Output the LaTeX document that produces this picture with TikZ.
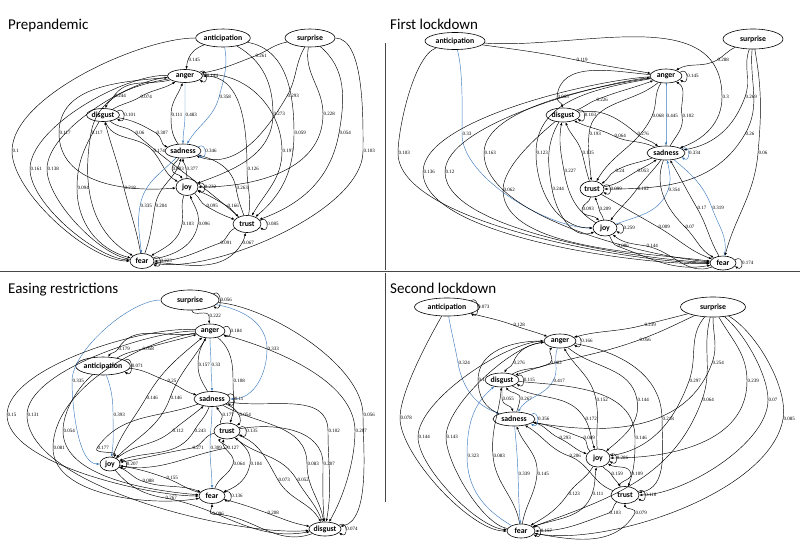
\documentclass[tikz,border=0pt]{standalone}
\usepackage{fontspec}
\setmainfont{Liberation Serif}
\newfontfamily\calfont{Carlito}
\usetikzlibrary{shapes.geometric,arrows.meta}
\definecolor{edgeblue}{RGB}{65,125,190}
\definecolor{divgray}{RGB}{70,70,70}
\tikzset{
 emo/.style={ellipse,draw,line width=0.6pt,inner sep=0pt,font=\calfont\bfseries\fontsize{7.8}{8}\selectfont},
 ed/.style={line width=0.45pt,-{Latex[length=3pt,width=2.4pt]}},
 bl/.style={edgeblue},
 lb/.style={font=\fontsize{5}{5}\selectfont,inner sep=0.3pt,anchor=west,text=black},
 ttl/.style={font=\calfont\fontsize{15}{16}\selectfont,anchor=base west,inner sep=0pt},
 divider/.style={divgray,line width=1pt}
}
\newcommand\EmoEdge[8][]{\pgfmathsetmacro\Erev{#5+180}\draw[ed,#1] (#2) to[out=#3,in=\Erev] (#4) node[lb]{#6} to[out=#5,in=#7] (#8);}
\newcommand\EmoLoop[3][]{\draw[ed,#1] (#2.15) .. controls +(9,-6) and +(9,6) .. (#2.-15) node[lb,pos=0.5]{#3};}
\begin{document}
\begin{tikzpicture}[x=1pt,y=-1pt]
\useasboundingbox (0,0) rectangle (800,544);
% dividers and titles
\draw[divider] (0,271) -- (800,271);
\draw[divider] (385,43) -- (385,270);
\draw[divider] (385,273) -- (385,502);
\node[ttl] (T1) at (8,29) {Prepandemic};
\node[ttl] (T2) at (390,29) {First lockdown};
\node[ttl] (T3) at (8,293) {Easing restrictions};
\node[ttl] (T4) at (390,293) {Second lockdown};
% ---------------- Panel 1
\node[emo,minimum width=48pt,minimum height=18pt] (a1) at (223,38) {anticipation};
\node[emo,minimum width=50pt,minimum height=18pt] (s1) at (310,38) {surprise};
\node[emo,minimum width=35pt,minimum height=13pt] (an1) at (185,76) {anger};
\node[emo,minimum width=33pt,minimum height=13pt] (d1) at (103,115) {disgust};
\node[emo,minimum width=36pt,minimum height=14pt] (sa1) at (183,151) {sadness};
\node[emo,minimum width=22pt,minimum height=17pt] (j1) at (187,187) {joy};
\node[emo,minimum width=28pt,minimum height=17pt] (t1) at (247,224) {trust};
\node[emo,minimum width=24pt,minimum height=15pt] (f1) at (142,261) {fear};
\EmoEdge{a1}{200}{188,60}{250}{0.145}{80}{an1}
\EmoEdge[bl]{a1}{280}{219,97}{255}{0.358}{60}{sa1}
\EmoEdge[looseness=0.65]{a1}{180}{12,151}{270}{0.1}{180}{f1}
\EmoEdge[looseness=0.65]{an1}{178}{30,169}{270}{0.161}{176}{f1}
\EmoEdge[looseness=0.65]{f1}{172}{47,169}{90}{0.138}{185}{an1}
\EmoEdge{an1}{185}{59,133}{270}{0.117}{185}{j1}
\EmoEdge{an1}{195}{114,96}{235}{0.244}{70}{d1}
\EmoEdge{d1}{240}{77,188}{270}{0.094}{165}{f1}
\EmoEdge{f1}{100}{124,188}{104}{0.218}{285}{d1}
\EmoEdge{an1}{190}{91,133}{260}{0.117}{150}{f1}
\EmoEdge{d1}{31}{140,97}{31}{0.074}{211}{an1}
\EmoEdge{sa1}{125}{171,115}{90}{0.111}{250}{an1}
\EmoEdge[bl]{an1}{270}{185,115}{270}{0.483}{90}{sa1}
\EmoEdge{d1}{-41}{135,133}{-41}{0.06}{139}{t1}
\EmoEdge{d1}{-10}{156,133}{-30}{0.307}{165}{sa1}
\EmoEdge{d1}{-70}{153,151}{-50}{0.174}{150}{j1}
\EmoEdge{sa1}{240}{172,169}{270}{0.083}{120}{j1}
\EmoEdge{j1}{90}{186,169}{92}{0.377}{270}{sa1}
\EmoEdge[bl]{sa1}{225}{140,206}{260}{0.335}{95}{f1}
\EmoEdge{f1}{70}{155,206}{80}{0.204}{255}{sa1}
\EmoEdge{j1}{250}{182,224}{260}{0.103}{30}{f1}
\EmoEdge{f1}{10}{198,224}{80}{0.096}{290}{j1}
\EmoEdge{j1}{-40}{206,206}{-30}{0.095}{160}{t1}
\EmoEdge{t1}{140}{227,206}{150}{0.166}{-20}{j1}
\EmoEdge{t1}{110}{236,188}{100}{0.263}{-15}{sa1}
\EmoEdge{t1}{80}{247,169}{90}{0.126}{0}{an1}
\EmoEdge{t1}{200}{220,243}{200}{0.091}{0}{f1}
\EmoEdge{f1}{-5}{242,243}{60}{0.067}{260}{t1}
\EmoEdge{s1}{190}{255,56}{201}{0.261}{10}{an1}
\EmoEdge{s1}{240}{287,96}{240}{0.293}{-20}{sa1}
\EmoEdge{a1}{-30}{273,114}{270}{0.273}{20}{j1}
\EmoEdge{a1}{-10}{294,133}{270}{0.059}{40}{t1}
\EmoEdge{an1}{5}{282,151}{270}{0.197}{60}{t1}
\EmoEdge{s1}{260}{323,114}{270}{0.228}{0}{j1}
\EmoEdge{s1}{-40}{339,133}{260}{0.054}{20}{t1}
\EmoEdge[looseness=0.65]{s1}{0}{363,151}{270}{0.103}{-10}{f1}
\EmoLoop{an1}{0.144}
\EmoLoop{d1}{0.101}
\EmoLoop[bl]{sa1}{0.346}
\EmoLoop{j1}{0.232}
\EmoLoop{t1}{0.085}
\EmoLoop{f1}{0.223}
% ---------------- Panel 2
\node[emo,minimum width=60pt,minimum height=17pt] (a2) at (455,41) {anticipation};
\node[emo,minimum width=60pt,minimum height=20pt] (s2) at (753,39) {surprise};
\node[emo,minimum width=32pt,minimum height=14pt] (an2) at (666,76) {anger};
\node[emo,minimum width=34pt,minimum height=14pt] (d2) at (563,115) {disgust};
\node[emo,minimum width=38pt,minimum height=14pt] (sa2) at (666,153) {sadness};
\node[emo,minimum width=24pt,minimum height=16pt] (t2) at (592,189) {trust};
\node[emo,minimum width=24pt,minimum height=16pt] (j2) at (605,228) {joy};
\node[emo,minimum width=26pt,minimum height=14pt] (f2) at (723,263) {fear};
\EmoEdge{a2}{-8}{576,60}{-12}{0.119}{170}{an2}
\EmoEdge{a2}{-4}{722,97}{270}{0.3}{20}{sa2}
\EmoEdge[bl,looseness=0.7]{a2}{285}{462,134}{270}{0.33}{180}{j2}
\EmoEdge[looseness=0.55]{a2}{200}{398,153}{270}{0.103}{180}{f2}
\EmoEdge[looseness=0.55]{an2}{183}{423,172}{270}{0.136}{182}{f2}
\EmoEdge[looseness=0.55]{f2}{178}{445,172}{90}{0.12}{186}{an2}
\EmoEdge[looseness=0.65]{an2}{188}{484,153}{270}{0.163}{175}{f2}
\EmoEdge[looseness=0.7]{d2}{220}{503,190}{270}{0.062}{172}{f2}
\EmoEdge{an2}{175}{557,97}{265}{0.065}{95}{d2}
\EmoEdge{d2}{20}{596,100}{22}{0.226}{200}{an2}
\EmoEdge{an2}{190}{536,153}{270}{0.123}{180}{j2}
\EmoEdge{j2}{150}{564,171}{100}{0.227}{260}{d2}
\EmoEdge{d2}{240}{552,189}{280}{0.244}{200}{j2}
\EmoEdge{t2}{108}{582,153}{105}{0.135}{290}{d2}
\EmoEdge{an2}{220}{589,134}{265}{0.193}{95}{t2}
\EmoEdge{sa2}{153}{614,136}{153}{0.064}{-27}{d2}
\EmoEdge{d2}{10}{637,134}{-40}{0.276}{140}{sa2}
\EmoEdge{an2}{235}{652,116}{245}{0.068}{60}{t2}
\EmoEdge[bl]{an2}{270}{666,116}{270}{0.445}{90}{sa2}
\EmoEdge{sa2}{60}{682,116}{100}{0.102}{-30}{an2}
\EmoEdge{sa2}{200}{615,171}{210}{0.24}{30}{t2}
\EmoEdge{t2}{10}{637,171}{30}{0.053}{215}{sa2}
\EmoEdge{sa2}{234}{637,189}{234}{0.102}{54}{j2}
\EmoEdge[bl]{j2}{20}{668,190}{70}{0.354}{280}{sa2}
\EmoEdge{f2}{120}{697,208}{120}{0.17}{-60}{sa2}
\EmoEdge[bl]{sa2}{-40}{712,208}{-70}{0.319}{80}{f2}
\EmoEdge{t2}{-30}{658,227}{-30}{0.009}{160}{f2}
\EmoEdge{sa2}{250}{685,227}{-45}{0.07}{150}{f2}
\EmoEdge{j2}{-60}{617,246}{-20}{0.086}{190}{f2}
\EmoEdge{f2}{200}{646,246}{170}{0.144}{-40}{j2}
\EmoEdge{t2}{260}{582,209}{260}{0.093}{130}{j2}
\EmoEdge{j2}{100}{599,209}{100}{0.209}{290}{t2}
\EmoEdge{s2}{205}{717,60}{210}{0.288}{30}{an2}
\EmoEdge{s2}{250}{745,97}{250}{0.269}{10}{sa2}
\EmoEdge{s2}{265}{745,134}{240}{0.26}{0}{t2}
\EmoEdge{s2}{-80}{758,153}{265}{0.06}{75}{f2}
\EmoLoop{an2}{0.145}
\EmoLoop{d2}{0.103}
\EmoLoop[bl]{sa2}{0.334}
\EmoLoop{t2}{0.099}
\EmoLoop{j2}{0.259}
\EmoLoop{f2}{0.174}
% ---------------- Panel 3
\node[emo,minimum width=58pt,minimum height=20pt] (s3) at (190,300) {surprise};
\node[emo,minimum width=30pt,minimum height=14pt] (an3) at (210,331) {anger};
\node[emo,minimum width=52pt,minimum height=18pt] (a3) at (103,366) {anticipation};
\node[emo,minimum width=36pt,minimum height=15pt] (sa3) at (212,399) {sadness};
\node[emo,minimum width=26pt,minimum height=16pt] (t3) at (227,431) {trust};
\node[emo,minimum width=20pt,minimum height=14pt] (j3) at (110,464) {joy};
\node[emo,minimum width=26pt,minimum height=15pt] (f3) at (212,496) {fear};
\node[emo,minimum width=30pt,minimum height=14pt] (d3) at (325,529) {disgust};
\EmoEdge{s3}{280}{209,316}{280}{0.222}{95}{an3}
\EmoEdge[bl,looseness=0.65]{s3}{180}{72,381}{270}{0.335}{180}{j3}
\EmoEdge[bl]{s3}{-10}{267,349}{270}{0.333}{0}{sa3}
\EmoEdge[looseness=0.7]{s3}{-5}{363,415}{270}{0.056}{10}{d3}
\EmoEdge{an3}{190}{118,349}{240}{0.179}{60}{a3}
\EmoEdge{a3}{30}{142,349}{15}{0.058}{195}{an3}
\EmoEdge[bl]{a3}{290}{113,415}{270}{0.393}{80}{j3}
\EmoEdge{a3}{-5}{167,381}{-20}{0.25}{165}{sa3}
\EmoEdge[looseness=0.6]{an3}{175}{7,415}{270}{0.15}{180}{f3}
\EmoEdge[looseness=0.6]{an3}{180}{27,415}{270}{0.131}{185}{d3}
\EmoEdge[looseness=0.8]{a3}{220}{63,431}{270}{0.054}{175}{f3}
\EmoEdge[looseness=0.8]{an3}{188}{53,448}{270}{0.081}{190}{f3}
\EmoEdge{sa3}{200}{97,448}{235}{0.177}{60}{j3}
\EmoEdge{j3}{70}{146,398}{60}{0.146}{220}{an3}
\EmoEdge{an3}{240}{170,398}{250}{0.146}{45}{j3}
\EmoEdge{sa3}{120}{198,365}{90}{0.157}{240}{an3}
\EmoEdge[bl]{an3}{270}{211,365}{270}{0.33}{90}{sa3}
\EmoEdge{an3}{-40}{233,381}{270}{0.108}{70}{t3}
\EmoEdge{t3}{130}{222,415}{120}{0.177}{-60}{sa3}
\EmoEdge{sa3}{-20}{239,415}{-60}{0.054}{30}{t3}
\EmoEdge{j3}{40}{172,431}{40}{0.112}{220}{sa3}
\EmoEdge{sa3}{250}{194,431}{240}{0.243}{20}{j3}
\EmoEdge{t3}{190}{192,448}{190}{0.271}{10}{j3}
\EmoEdge[bl]{sa3}{270}{210,448}{270}{0.309}{90}{f3}
\EmoEdge{j3}{-10}{227,448}{10}{0.127}{230}{t3}
\EmoEdge{f3}{70}{233,464}{70}{0.064}{250}{t3}
\EmoEdge{t3}{-40}{250,464}{260}{0.104}{20}{f3}
\EmoEdge{j3}{-20}{142,481}{-20}{0.088}{160}{f3}
\EmoEdge{f3}{165}{166,478}{160}{0.155}{-10}{j3}
\EmoEdge{j3}{-50}{165,498}{-10}{0.267}{190}{d3}
\EmoEdge{f3}{-15}{267,513}{-20}{0.208}{170}{d3}
\EmoEdge{d3}{200}{212,514}{180}{0.096}{270}{f3}
\EmoEdge[looseness=0.8]{an3}{-15}{355,431}{270}{0.207}{60}{d3}
\EmoEdge{sa3}{-10}{328,431}{270}{0.102}{80}{d3}
\EmoEdge{t3}{10}{323,464}{270}{0.207}{95}{d3}
\EmoEdge{sa3}{-30}{307,464}{270}{0.083}{100}{d3}
\EmoEdge{t3}{-20}{278,480}{-60}{0.073}{120}{d3}
\EmoEdge{d3}{110}{297,480}{120}{0.052}{-40}{t3}
\EmoLoop{s3}{0.056}
\EmoLoop{an3}{0.184}
\EmoLoop{a3}{0.071}
\EmoLoop{sa3}{0.11}
\EmoLoop{t3}{0.135}
\EmoLoop{j3}{0.207}
\EmoLoop{f3}{0.136}
\EmoLoop{d3}{0.074}
% ---------------- Panel 4
\node[emo,minimum width=65pt,minimum height=18pt] (a4) at (447,307) {anticipation};
\node[emo,minimum width=65pt,minimum height=20pt] (s4) at (713,307) {surprise};
\node[emo,minimum width=32pt,minimum height=14pt] (an4) at (560,341) {anger};
\node[emo,minimum width=34pt,minimum height=14pt] (d4) at (502,380) {disgust};
\node[emo,minimum width=42pt,minimum height=14pt] (sa4) at (514,419) {sadness};
\node[emo,minimum width=24pt,minimum height=18pt] (j4) at (598,458) {joy};
\node[emo,minimum width=28pt,minimum height=17pt] (t4) at (625,495) {trust};
\node[emo,minimum width=28pt,minimum height=14pt] (f4) at (521,531) {fear};
\EmoEdge{a4}{-15}{513,325}{-20}{0.128}{160}{an4}
\EmoEdge[bl]{a4}{280}{458,363}{280}{0.324}{160}{sa4}
\EmoEdge[looseness=0.6]{a4}{240}{400,418}{270}{0.078}{180}{f4}
\EmoEdge[looseness=0.6]{an4}{180}{418,437}{270}{0.144}{175}{f4}
\EmoEdge[looseness=0.6]{f4}{170}{446,437}{90}{0.143}{185}{an4}
\EmoEdge[bl]{f4}{150}{467,456}{90}{0.323}{220}{d4}
\EmoEdge{f4}{100}{493,456}{95}{0.083}{265}{d4}
\EmoEdge{an4}{185}{513,363}{250}{0.276}{70}{d4}
\EmoEdge{d4}{30}{550,363}{30}{0.082}{220}{an4}
\EmoEdge{sa4}{160}{478,380}{90}{0.1}{180}{an4}
\EmoEdge[bl]{an4}{250}{553,381}{240}{0.417}{60}{sa4}
\EmoEdge{d4}{270}{502,399}{270}{0.055}{100}{sa4}
\EmoEdge{sa4}{70}{520,399}{80}{0.267}{-60}{d4}
\EmoEdge{j4}{95}{596,400}{100}{0.152}{-60}{an4}
\EmoEdge{an4}{-10}{662,419}{270}{0.218}{10}{t4}
\EmoEdge{an4}{-40}{637,400}{-80}{0.144}{40}{j4}
\EmoEdge{d4}{-5}{635,438}{270}{0.146}{70}{t4}
\EmoEdge{d4}{-30}{585,419}{-60}{0.172}{110}{j4}
\EmoEdge{sa4}{-10}{559,438}{-25}{0.293}{160}{j4}
\EmoEdge{j4}{140}{583,438}{160}{0.089}{-10}{sa4}
\EmoEdge{t4}{160}{569,456}{160}{0.206}{-30}{sa4}
\EmoEdge[bl]{sa4}{275}{518,474}{272}{0.339}{95}{f4}
\EmoEdge{f4}{80}{537,474}{85}{0.145}{290}{sa4}
\EmoEdge{j4}{-60}{611,474}{-60}{0.159}{120}{t4}
\EmoEdge{t4}{120}{631,474}{100}{0.109}{-30}{j4}
\EmoEdge{j4}{240}{568,494}{235}{0.123}{30}{f4}
\EmoEdge{f4}{20}{592,494}{70}{0.111}{260}{j4}
\EmoEdge{t4}{220}{609,513}{200}{0.103}{0}{f4}
\EmoEdge{f4}{-10}{635,513}{60}{0.079}{270}{t4}
\EmoEdge{s4}{195}{644,325}{195}{0.239}{15}{an4}
\EmoEdge{s4}{205}{639,340}{200}{0.056}{20}{d4}
\EmoEdge{s4}{270}{712,363}{250}{0.254}{-10}{sa4}
\EmoEdge{s4}{230}{689,381}{250}{0.297}{10}{j4}
\EmoEdge{s4}{255}{702,400}{250}{0.064}{20}{f4}
\EmoEdge{s4}{-60}{747,381}{270}{0.239}{0}{j4}
\EmoEdge[looseness=0.7]{s4}{-40}{768,400}{270}{0.07}{0}{t4}
\EmoEdge[looseness=0.7]{s4}{-30}{783,419}{260}{0.085}{-10}{f4}
\EmoLoop{a4}{0.073}
\EmoLoop{an4}{0.166}
\EmoLoop{d4}{0.115}
\EmoLoop[bl]{sa4}{0.356}
\EmoLoop{j4}{0.286}
\EmoLoop{t4}{0.116}
\EmoLoop{f4}{0.157}
\end{tikzpicture}
\end{document}
